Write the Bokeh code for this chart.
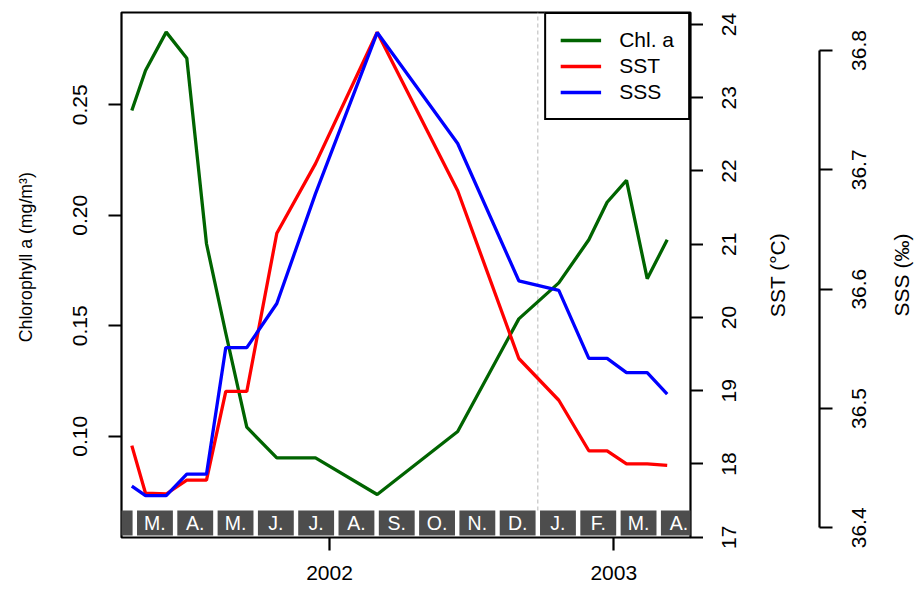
from bokeh.plotting import figure
from bokeh.layouts import row
from bokeh.models import (Range1d, LinearAxis, FixedTicker, Legend, LegendItem,
                          ColumnDataSource, PrintfTickFormatter)
from bokeh.embed import file_html
from bokeh.resources import INLINE
from bokeh.core.properties import value

# ---------------- data (x in months since 1 Jan 2002) ----------------
x_month = [1.926, 2.266, 2.779, 3.290, 3.779, 4.258, 4.779, 5.524, 6.484,
           8.015, 10.012, 11.529, 12.521, 13.266, 13.720, 14.201, 14.715, 15.211]
chl = [0.2474, 0.2655, 0.2829, 0.2711, 0.1871, 0.1466, 0.1041, 0.0902, 0.0902,
       0.0736, 0.1021, 0.1531, 0.1694, 0.1889, 0.2059, 0.2158, 0.1713, 0.1889]
sst = [18.25, 17.60, 17.59, 17.78, 17.78, 18.99, 18.99, 21.15, 22.10,
       23.895, 21.73, 19.44, 18.87, 18.18, 18.18, 18.00, 18.00, 17.98]
sss = [36.435, 36.427, 36.427, 36.445, 36.445, 36.551, 36.551, 36.588, 36.680,
       36.815, 36.722, 36.607, 36.599, 36.542, 36.542, 36.530, 36.530, 36.512]

month_start = list(range(1, 16))          # Feb 2002 ... Apr 2003
month_labels = ["F.", "M.", "A.", "M.", "J.", "J.", "A.", "S.", "O.", "N.",
                "D.", "J.", "F.", "M.", "A."]
year_ticks = [6.831, 13.886]
year_labels = ["2002", "2003"]
year_boundary = 12
chl_ticks = [0.10, 0.15, 0.20, 0.25]
sst_ticks = [17, 18, 19, 20, 21, 22, 23, 24]
sst_tick_labels = ["17", "18", "19", "20", "21", "22", "23", "24"]
sss_ticks = [36.4, 36.5, 36.6, 36.7, 36.8]
sss_tick_labels = ["36.4", "36.5", "36.6", "36.7", "36.8"]

FONT = "Liberation Sans"
GREEN, RED, BLUE = "#006400", "#FF0000", "#0000FF"
FS = "21px"
TW = 2.2            # tick / frame line width

x_lo, x_hi = 1.670, 15.789
chl_lo, chl_hi = 0.05415, 0.29178
sst_lo, sst_hi = 16.996, 24.164
sss_lo, sss_hi = 36.3919, 36.8318
box_bottom, box_top = 0.0551, 0.0664
FRAME_H = 525.0
BORDER_T, BORDER_B = 12, 53


def style(ax, size=FS):
    ax.axis_line_color = None
    ax.major_tick_line_color = "black"
    ax.major_tick_line_width = TW
    ax.major_tick_in = 0
    ax.major_tick_out = 13
    ax.minor_tick_line_color = None
    ax.major_label_text_font = FONT
    ax.major_label_text_font_size = size
    ax.major_label_text_color = "black"
    ax.axis_label_text_font = FONT
    ax.axis_label_text_font_style = "normal"
    ax.axis_label_text_color = "black"
    ax.axis_label_text_font_size = size


def tick_marks_only(ax, ticks):
    ax.ticker = FixedTicker(ticks=[], minor_ticks=list(ticks))
    ax.minor_tick_line_color = "black"
    ax.minor_tick_line_width = TW
    ax.minor_tick_out = 13
    ax.minor_tick_in = 0


def labels_only(ax, ticks, labels, standoff, size=FS):
    """Upright (bottom-to-top) labels centred on their ticks, no tick marks."""
    style(ax, size)
    ax.ticker = FixedTicker(ticks=list(ticks))
    ax.major_label_overrides = dict(zip(ticks, labels))
    ax.major_tick_line_color = None
    ax.major_tick_out = 0
    ax.major_label_orientation = "vertical"
    ax.major_label_standoff = standoff


def new_fig(width, y_range, **kw):
    f = figure(width=width, height=590, output_backend="svg", toolbar_location=None,
               y_range=y_range, min_border_top=BORDER_T,
               min_border_bottom=BORDER_B, **kw)
    f.xgrid.visible = False
    f.ygrid.visible = False
    f.background_fill_color = "white"
    f.border_fill_color = "white"
    return f


# ======================= main figure =======================
p = new_fig(703, Range1d(chl_lo, chl_hi), x_range=Range1d(x_lo, x_hi),
            min_border_left=121, min_border_right=13)
p.extra_y_ranges = {"sst": Range1d(sst_lo, sst_hi), "sss": Range1d(sss_lo, sss_hi)}
p.outline_line_color = "black"
p.outline_line_width = TW
p.outline_line_alpha = 1.0

# left axis (chlorophyll)
ly = p.yaxis[0]
style(ly)
ly.ticker = FixedTicker(ticks=chl_ticks)
ly.formatter = PrintfTickFormatter(format="%.2f")
ly.major_label_orientation = "vertical"
ly.major_label_standoff = 21

# left title, as a one-tick axis so it can sit where the reference puts it
chl_px = FRAME_H / (chl_hi - chl_lo)
chl_title_at = chl_lo + (537 - 256.7) / chl_px
lt = LinearAxis()
labels_only(lt, [chl_title_at], ["Chlorophyll a (mg/m³)"], 34, "17.7px")
p.add_layout(lt, "left")

# bottom axis
bx = p.xaxis[0]
style(bx)
bx.ticker = FixedTicker(ticks=year_ticks)
bx.major_label_overrides = dict(zip(year_ticks, year_labels))
bx.major_label_standoff = 15

# SST tick marks (labels are drawn by the next panel)
ax_sst_ticks = LinearAxis(y_range_name="sst")
style(ax_sst_ticks)
tick_marks_only(ax_sst_ticks, sst_ticks)
p.add_layout(ax_sst_ticks, "right")

# dashed year boundary
p.segment(x0=[year_boundary], y0=[box_top], x1=[year_boundary], y1=[chl_hi],
          line_color="#C4C4C4", line_width=1.2, line_dash="4 3")

# series
src = ColumnDataSource(dict(x=x_month, chl=chl, sst=sst, sss=sss))
r_chl = p.line("x", "chl", source=src, line_color=GREEN, line_width=3.3)
r_sst = p.line("x", "sst", source=src, line_color=RED, line_width=3.3, y_range_name="sst")
r_sss = p.line("x", "sss", source=src, line_color=BLUE, line_width=3.3, y_range_name="sss")

# month boxes
gap = 0.055
msrc = ColumnDataSource(dict(
    left=[m + gap for m in month_start],
    right=[m + 1 - gap for m in month_start],
    mid=[m + 0.5 for m in month_start],
    label=month_labels))
p.quad(left="left", right="right", bottom=box_bottom, top=box_top, source=msrc,
       fill_color="#4D4D4D", line_color=None)
vis = [i for i, m in enumerate(month_start) if x_lo <= m + 0.5 <= x_hi + 0.5]
tsrc = ColumnDataSource(dict(x=[msrc.data["mid"][i] for i in vis],
                             label=[month_labels[i] for i in vis]))
p.text(x="x", y=(box_bottom + box_top) / 2, text="label", source=tsrc,
       text_color="white", text_font=value(FONT), text_font_size="19.5px",
       text_align="center", text_baseline="middle")

legend = Legend(items=[LegendItem(label="Chl. a", renderers=[r_chl]),
                       LegendItem(label="SST", renderers=[r_sst]),
                       LegendItem(label="SSS", renderers=[r_sss])],
                location="top_right", margin=0, padding=14, spacing=2,
                glyph_width=41, glyph_height=24, label_height=24,
                label_standoff=18, label_text_font=FONT,
                label_text_font_size=FS, label_text_color="black",
                border_line_color="black",
                border_line_width=2, border_line_alpha=1.0,
                background_fill_color="white", background_fill_alpha=1.0)
p.add_layout(legend)

# ============ SST labels + title (left of a 1px frame), SSS axis line ============
p2 = new_fig(131, Range1d(sst_lo, sst_hi), x_range=Range1d(0, 1),
             x_axis_location=None, y_axis_location="left",
             min_border_left=115, min_border_right=15)
p2.outline_line_color = None
p2.extra_y_ranges = {"sss": Range1d(sss_lo, sss_hi)}
sst_title = p2.yaxis[0]                      # next to the frame
labels_only(sst_title, [0.5 * (sst_lo + sst_hi)], ["SST (°C)"], 30)
sst_labels = LinearAxis()                    # further out
labels_only(sst_labels, sst_ticks, sst_tick_labels, 26)
p2.add_layout(sst_labels, "left")

ax_sss_line = LinearAxis(y_range_name="sss")
style(ax_sss_line)
tick_marks_only(ax_sss_line, sss_ticks)
ax_sss_line.bounds = (sss_ticks[0], sss_ticks[-1])
ax_sss_line.axis_line_color = "black"
ax_sss_line.axis_line_width = TW
p2.add_layout(ax_sss_line, "right")

# ======================= SSS labels + title =======================
p3 = new_fig(82, Range1d(sss_lo, sss_hi), x_range=Range1d(0, 1),
             x_axis_location=None, y_axis_location="left",
             min_border_left=81, min_border_right=0)
p3.outline_line_color = None
sss_title = p3.yaxis[0]
labels_only(sss_title, [0.5 * (sss_lo + sss_hi)], ["SSS (‰)"], 3)
sss_labels = LinearAxis()
labels_only(sss_labels, sss_ticks, sss_tick_labels, 20)
p3.add_layout(sss_labels, "left")

layout = row(p, p2, p3, spacing=0)
open("out.html", "w").write(file_html(layout, INLINE))
